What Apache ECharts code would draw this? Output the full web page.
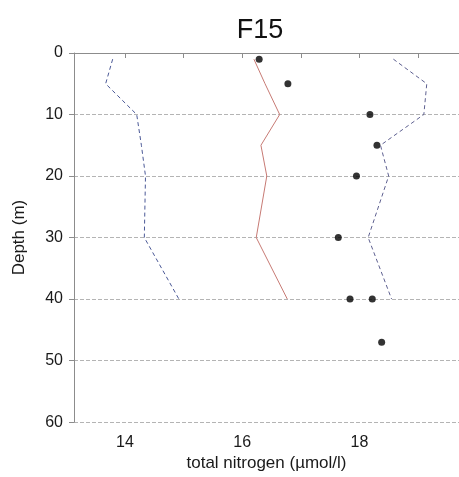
<!DOCTYPE html>
<html>
<head>
<meta charset="utf-8">
<script src="https://cdn.jsdelivr.net/npm/echarts@6/dist/echarts.min.js"></script>
<style>
html,body{margin:0;padding:0;background:#fff;}
#chart{width:459px;height:477px;}
</style>
</head>
<body>
<div id="chart"></div>
<script>
var titleText = "F15";
var xName = "total nitrogen (µmol/l)";
var yName = "Depth (m)";
var xTickLabels = [14, 16, 18];
var xTicks = [14, 15, 16, 17, 18, 19];

var lineDepths = [1, 5, 10, 15, 20, 30, 40];
var lowerValues = [13.79, 13.67, 14.20, 14.28, 14.35, 14.33, 14.92];
var meanValues = [16.20, 16.39, 16.64, 16.32, 16.42, 16.24, 16.77];
var upperValues = [18.58, 19.15, 19.10, 18.36, 18.50, 18.15, 18.55];

var obsDepths = [1, 5, 10, 15, 20, 30, 40, 40, 47];
var obsValues = [16.29, 16.78, 18.18, 18.30, 17.95, 17.64, 17.84, 18.22, 18.38];

function pairs(xs, ys) { return xs.map(function (v, i) { return [v, ys[i]]; }); }

var chart = echarts.init(document.getElementById('chart'));
var axisColor = '#8c8c8c';
var textColor = '#1a1a1a';
chart.setOption({
  animation: false,
  title: {
    text: titleText, left: 255, top: 12, textAlign: 'center',
    textStyle: { fontFamily: 'Liberation Sans, Arial', fontSize: 27, fontWeight: 'normal', color: '#111' }
  },
  grid: { left: 74, right: 0, top: 53, bottom: 54, containLabel: false },
  xAxis: {
    type: 'value', min: 13.13, max: 19.7,
    name: xName, nameLocation: 'middle', nameGap: 32,
    nameTextStyle: { fontFamily: 'Liberation Sans, Arial', fontSize: 17, color: textColor },
    axisLine: { show: true, lineStyle: { color: axisColor, width: 1 } },
    axisTick: { show: true, length: 5, inside: false, customValues: xTicks, lineStyle: { color: axisColor } },
    axisLabel: { customValues: xTickLabels, margin: 12, fontFamily: 'Liberation Sans, Arial', fontSize: 16, color: textColor },
    splitLine: { show: false }
  },
  yAxis: {
    type: 'value', inverse: true, min: 0, max: 60, interval: 10,
    name: yName, nameLocation: 'middle', nameGap: 46, nameRotate: 90,
    nameTextStyle: { fontFamily: 'Liberation Sans, Arial', fontSize: 17, color: textColor },
    axisLine: { show: true, lineStyle: { color: axisColor, width: 1 } },
    axisTick: { show: true, length: 5, lineStyle: { color: axisColor } },
    axisLabel: { margin: 11, fontFamily: 'Liberation Sans, Arial', fontSize: 16, color: textColor },
    splitLine: { show: true, lineStyle: { color: '#b4b4b4', type: [4, 2], width: 1 } }
  },
  series: [
    {
      type: 'line', data: pairs(lowerValues, lineDepths), symbol: 'none',
      lineStyle: { color: '#4a5896', width: 1, type: [4, 3] }
    },
    {
      type: 'line', data: pairs(meanValues, lineDepths), symbol: 'none',
      lineStyle: { color: '#c77a74', width: 1 }
    },
    {
      type: 'line', data: pairs(upperValues, lineDepths), symbol: 'none',
      lineStyle: { color: '#5e6090', width: 1, type: [4, 3] }
    },
    {
      type: 'scatter', data: pairs(obsValues, obsDepths), symbol: 'circle', symbolSize: 7,
      itemStyle: { color: '#000' }
    }
  ]
});
</script>
</body>
</html>
